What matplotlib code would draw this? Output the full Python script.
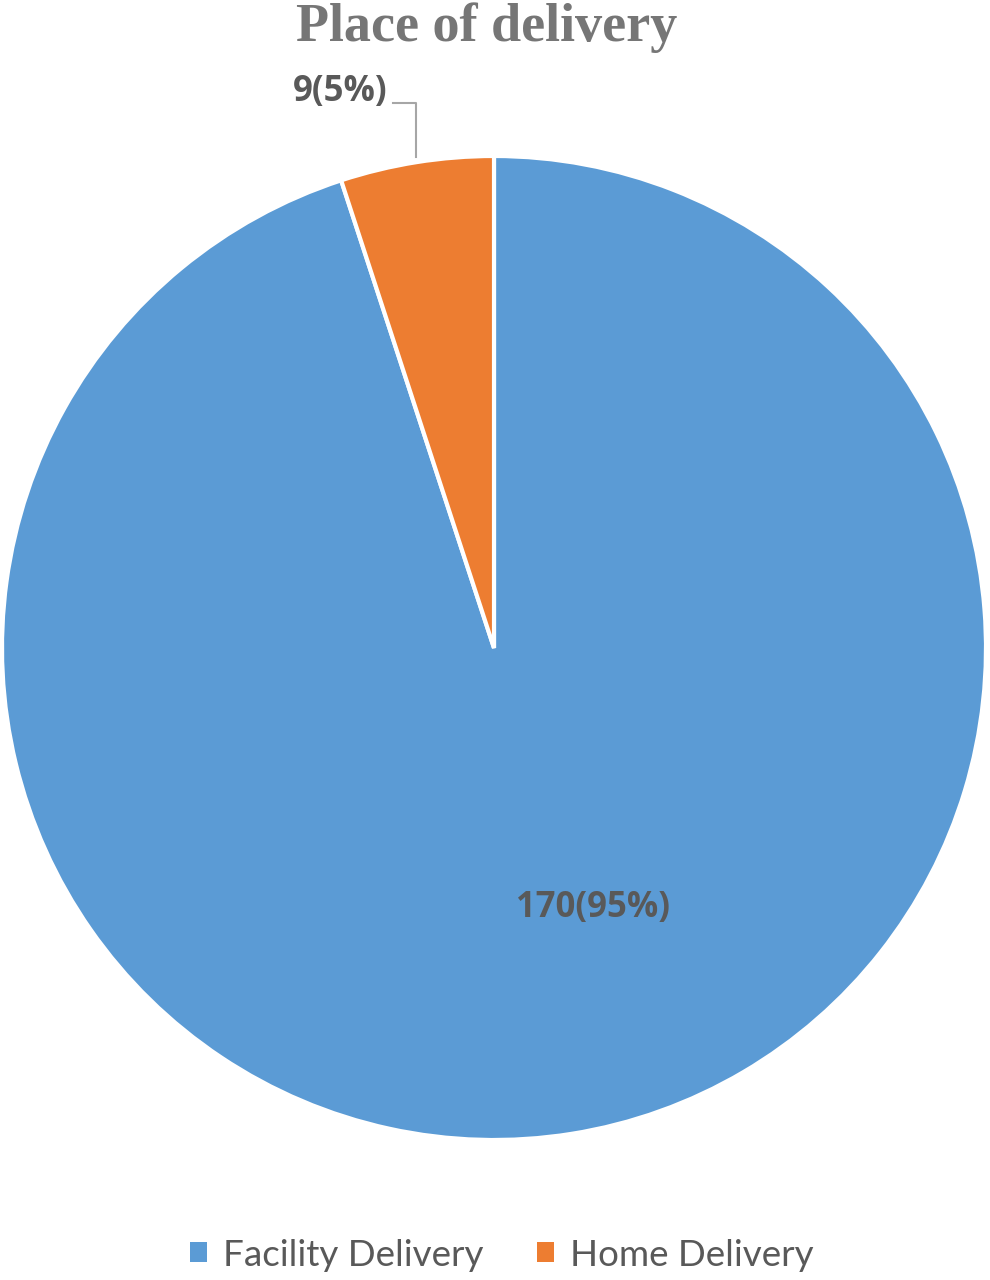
import matplotlib
matplotlib.use("Agg")
import matplotlib.pyplot as plt
from matplotlib.patches import Patch

# data
categories = ["Facility Delivery", "Home Delivery"]
counts = [170, 9]
labels = ["170(95%)", "9(5%)"]
colors = ["#5B9BD5", "#ED7D31"]

W, H = 990, 1280
fig = plt.figure(figsize=(W / 100, H / 100), dpi=100)
ax = fig.add_axes([0, 0, 1, 1])

cx, cy, r = 494, H - 648, 492
wedges, _ = ax.pie(counts, colors=colors, startangle=90, counterclock=False,
                   center=(cx, cy), radius=r, frame=True,
                   wedgeprops=dict(edgecolor="white", linewidth=3))
ax.set_xlim(0, W)
ax.set_ylim(0, H)
ax.set_aspect("equal")
ax.axis("off")

lab_font = dict(family="Open Sans", weight="bold", color="#595959", fontsize=25)
ax.text(593, H - 908, labels[0], ha="center", va="center", **lab_font)
ax.text(340, H - 92, labels[1], ha="center", va="center", **lab_font)
ax.plot([393, 416, 416], [H - 103, H - 103, H - 157], color="#A6A6A6", lw=1.5)

ax.text(W / 2 - 8, H - 28, "Place of delivery", ha="center", va="center",
        family="Liberation Serif", weight="bold", color="#767676", fontsize=39)

handles = [Patch(facecolor=c, edgecolor="none") for c in colors]
leg = fig.legend(handles, categories, loc="center", bbox_to_anchor=(0.507, 1 - 1255 / H),
                 ncol=2, frameon=False, handlelength=0.45, handleheight=0.45,
                 handletextpad=0.45, columnspacing=1.45,
                 prop=dict(family="Lato", size=26.5))
for t in leg.get_texts():
    t.set_color("#595959")

fig.savefig("out.png", dpi=100)
